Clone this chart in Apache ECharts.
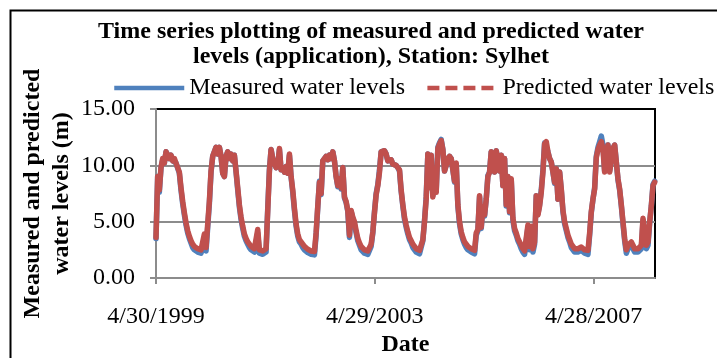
<!DOCTYPE html>
<html>
<head>
<meta charset="utf-8">
<script src="https://cdn.jsdelivr.net/npm/echarts@6/dist/echarts.min.js"></script>
<style>
html,body{margin:0;padding:0;background:#fff;}
#chart{width:717px;height:358px;}
</style>
</head>
<body>
<div id="chart"></div>
<script>
// Sampling: one reading every ~11.13 days starting 4/30/1999 (day 0)
const STEP_DAYS = 11.13;
const X_MAX = 3330;
const xTickValues = [0, 1460, 2920];
const xTickLabels = ['4/30/1999', '4/29/2003', '4/28/2007'];
const yTickDecimals = 2;

const predicted = [
  3.6, 9.0, 7.8, 9.8, 10.6, 10.2, 11.2, 11.3, 10.6, 10.9, 10.4, 10.6, 10.2, 10.3, 9.4, 8.0, 6.8, 5.8, 4.9, 4.2,
  3.7, 3.3, 3.0, 2.8, 2.7, 2.6, 2.55, 2.5, 2.5, 3.9, 2.7, 4.8, 6.8, 9.5, 10.8, 11.2, 11.6, 11.0, 11.6, 10.8,
  9.3, 9.0, 10.8, 11.2, 10.6, 11.0, 10.4, 10.9, 9.5, 8.0, 6.5, 5.4, 4.6, 3.9, 3.5, 3.2, 3.0, 2.8, 2.7, 2.6,
  2.6, 4.3, 2.5, 2.45, 2.4, 2.4, 2.6, 6.0, 9.5, 11.4, 10.6, 10.2, 9.8, 10.0, 11.5, 9.6, 9.8, 9.4, 9.9, 9.3,
  11.0, 9.0, 7.8, 6.2, 4.8, 3.9, 3.4, 3.2, 3.0, 2.8, 2.65, 2.55, 2.5, 2.4, 2.35, 2.35, 4.0, 6.4, 8.5, 7.5,
  10.4, 10.6, 10.8, 10.5, 10.9, 10.6, 11.2, 10.4, 9.0, 8.2, 8.8, 8.0, 9.8, 7.2, 6.8, 6.0, 3.8, 6.0, 5.4, 5.0,
  4.2, 3.5, 3.1, 2.8, 2.65, 2.5, 2.45, 2.4, 2.5, 3.0, 4.1, 5.8, 7.4, 8.2, 9.4, 11.2, 11.3, 11.3, 11.0, 10.4,
  10.3, 10.5, 10.1, 10.0, 10.0, 9.8, 9.6, 7.8, 6.5, 5.4, 4.7, 4.1, 3.6, 3.3, 3.0, 2.8, 2.6, 2.5, 2.45, 2.4,
  3.4, 5.0, 7.0, 11.0, 8.0, 10.9, 7.2, 9.5, 7.6, 11.5, 11.9, 12.2, 11.4, 9.5, 10.0, 10.6, 10.8, 10.6, 9.6, 8.6,
  10.2, 6.5, 5.0, 4.1, 3.6, 3.2, 3.0, 2.8, 2.7, 2.6, 2.5, 2.45, 4.0, 4.3, 7.3, 4.5, 6.3, 5.6, 7.0, 9.0,
  9.4, 11.2, 11.2, 9.4, 11.3, 11.2, 9.5, 10.9, 8.2, 10.6, 6.5, 9.0, 5.9, 8.8, 5.3, 4.4, 4.0, 3.5, 3.2, 2.9,
  2.6, 2.4, 2.4, 4.7, 2.8, 4.6, 2.6, 3.2, 7.3, 5.6, 6.4, 7.6, 9.4, 11.9, 12.1, 11.2, 10.6, 10.3, 9.4, 8.5,
  9.7, 7.0, 9.4, 7.9, 6.0, 5.0, 4.4, 3.8, 3.4, 3.0, 2.8, 2.6, 2.55, 2.6, 2.7, 2.75, 2.6, 2.5, 2.6, 2.45,
  4.0, 5.9, 7.0, 7.9, 10.7, 11.4, 11.8, 12.1, 11.4, 9.4, 10.9, 11.8, 9.4, 9.4, 11.5, 11.8, 10.3, 8.8, 7.9, 6.5,
  5.0, 3.5, 2.5, 2.9, 3.0, 3.2, 2.9, 2.6, 2.6, 2.6, 2.45, 2.9, 5.3, 5.3, 2.9, 3.2, 5.0, 6.4, 8.2, 8.5
];

const measured = [
  3.5, 9.0, 7.6, 9.8, 10.5, 10.2, 11.2, 11.3, 10.6, 10.9, 10.4, 10.5, 10.2, 10.3, 9.3, 7.8, 6.6, 5.6, 4.7, 4.0,
  3.5, 3.1, 2.7, 2.5, 2.4, 2.3, 2.25, 2.2, 2.2, 3.6, 2.4, 4.5, 6.6, 9.4, 10.8, 11.2, 11.6, 11.0, 11.6, 10.8,
  9.3, 9.0, 10.8, 11.2, 10.6, 11.0, 10.4, 10.9, 9.4, 7.8, 6.3, 5.2, 4.4, 3.7, 3.3, 3.0, 2.7, 2.5, 2.4, 2.3,
  2.3, 4.0, 2.2, 2.15, 2.1, 2.1, 2.3, 6.2, 9.6, 11.4, 10.6, 10.2, 9.8, 10.0, 11.4, 9.6, 9.8, 9.4, 9.9, 9.3,
  10.9, 9.0, 7.6, 6.0, 4.6, 3.7, 3.2, 3.0, 2.7, 2.5, 2.35, 2.25, 2.2, 2.1, 2.05, 2.05, 3.8, 6.3, 8.6, 7.4,
  10.4, 10.6, 10.8, 10.5, 10.9, 10.6, 11.2, 10.4, 9.0, 8.1, 8.8, 7.9, 9.8, 7.1, 6.7, 5.9, 3.6, 5.9, 5.3, 4.8,
  4.0, 3.3, 2.9, 2.5, 2.35, 2.2, 2.15, 2.1, 2.2, 2.8, 4.0, 5.9, 7.5, 8.3, 9.6, 11.2, 11.3, 11.3, 11.0, 10.4,
  10.3, 10.5, 10.1, 10.0, 10.0, 9.8, 9.5, 7.7, 6.4, 5.2, 4.5, 3.9, 3.4, 3.1, 2.7, 2.5, 2.3, 2.2, 2.15, 2.1,
  3.3, 5.1, 7.2, 11.0, 8.1, 10.9, 7.3, 9.5, 7.7, 11.6, 12.0, 12.3, 11.4, 9.5, 10.0, 10.6, 10.8, 10.6, 9.6, 8.5,
  10.1, 6.4, 4.8, 3.9, 3.4, 3.0, 2.7, 2.5, 2.4, 2.3, 2.2, 2.15, 3.8, 4.2, 7.2, 4.4, 6.3, 5.5, 7.0, 9.1,
  9.4, 11.2, 11.2, 9.4, 11.3, 11.2, 9.5, 10.9, 8.2, 10.6, 6.4, 9.0, 5.8, 8.7, 5.1, 4.2, 3.8, 3.3, 3.0, 2.6,
  2.3, 2.1, 2.1, 4.5, 2.5, 4.4, 2.3, 3.0, 7.3, 5.7, 6.5, 7.8, 9.6, 12.0, 12.1, 11.2, 10.6, 10.3, 9.4, 8.4,
  9.7, 7.0, 9.4, 7.8, 5.9, 4.8, 4.2, 3.6, 3.2, 2.7, 2.5, 2.3, 2.25, 2.3, 2.4, 2.45, 2.3, 2.2, 2.3, 2.1,
  3.8, 5.8, 7.0, 8.0, 10.8, 11.6, 12.1, 12.6, 11.8, 9.5, 11.0, 11.8, 9.5, 9.5, 11.5, 11.8, 10.3, 8.7, 7.8, 6.4,
  4.8, 3.3, 2.2, 2.6, 2.7, 2.9, 2.6, 2.3, 2.3, 2.3, 2.15, 2.6, 5.1, 5.1, 2.6, 2.9, 4.9, 6.4, 8.3, 8.6
];

const FONT = "'Liberation Serif', 'Times New Roman', serif";
const BLUE = '#4F81BD';
const RED = '#C0504D';
const GRAY = '#8C8C8C';

const toPairs = arr => arr.map((v, i) => [i * STEP_DAYS, v]);

const chart = echarts.init(document.getElementById('chart'), null, {renderer: 'canvas'});
chart.setOption({
  animation: false,
  backgroundColor: '#fff',
  graphic: [{
    type: 'rect',
    shape: {x: 10.5, y: 10.5, width: 800, height: 500},
    style: {fill: 'none', stroke: '#000', lineWidth: 2},
    silent: true
  }],
  title: {
    text: 'Time series plotting of measured and predicted water\nlevels (application), Station: Sylhet',
    left: 366,
    top: 14,
    textAlign: 'center',
    textStyle: {fontFamily: FONT, fontSize: 24, fontWeight: 'bold', color: '#000', lineHeight: 25}
  },
  legend: {
    left: 112,
    top: 76,
    width: 605,
    padding: 0,
    itemWidth: 70,
    itemHeight: 14,
    itemGap: 20,
    orient: 'horizontal',
    textStyle: {fontFamily: FONT, fontSize: 24, color: '#000', lineHeight: 24},
    data: [
      {name: 'Measured water levels', itemStyle: {opacity: 0}, lineStyle: {width: 4.5, type: 'solid', cap: 'butt'}},
      {name: 'Predicted water levels', itemStyle: {opacity: 0}, lineStyle: {width: 4.5, type: [12, 6], cap: 'butt'}}
    ]
  },
  grid: {
    left: 156, right: 62, top: 109, bottom: 80,
    show: true, borderColor: '#000', borderWidth: 2, backgroundColor: 'transparent'
  },
  xAxis: {
    type: 'value',
    min: 0,
    max: X_MAX,
    interval: 1460,
    name: 'Date',
    nameLocation: 'middle',
    nameGap: 55,
    nameMoveOverlap: false,
    nameTextStyle: {fontFamily: FONT, fontSize: 24, fontWeight: 'bold', color: '#000', lineHeight: 24},
    axisLine: {show: true, lineStyle: {color: GRAY, width: 2}},
    axisTick: {show: true, length: 6, lineStyle: {color: GRAY, width: 2}, customValues: xTickValues},
    axisLabel: {
      customValues: xTickValues,
      margin: 27,
      fontFamily: FONT, fontSize: 24, color: '#000', lineHeight: 24,
      formatter: v => {
        const k = xTickValues.indexOf(Math.round(v));
        return k >= 0 ? xTickLabels[k] : '';
      }
    },
    splitLine: {show: false}
  },
  yAxis: {
    type: 'value',
    min: 0,
    max: 15,
    interval: 5,
    name: 'Measured and predicted\nwater levels (m)',
    nameLocation: 'middle',
    nameGap: 80,
    nameMoveOverlap: false,
    nameTextStyle: {fontFamily: FONT, fontSize: 24, fontWeight: 'bold', color: '#000', lineHeight: 29},
    axisLine: {show: true, lineStyle: {color: GRAY, width: 2}},
    axisTick: {show: true, length: 6, lineStyle: {color: GRAY, width: 2}},
    axisLabel: {
      margin: 21,
      fontFamily: FONT, fontSize: 24, color: '#000',
      formatter: v => v.toFixed(yTickDecimals)
    },
    splitLine: {show: true, showMinLine: false, showMaxLine: false, lineStyle: {color: GRAY, width: 2}}
  },
  series: [
    {
      name: 'Measured water levels',
      type: 'line',
      symbol: 'none',
      data: toPairs(measured),
      lineStyle: {color: BLUE, width: 5.5, cap: 'round', join: 'round'},
      itemStyle: {color: BLUE},
      z: 2
    },
    {
      name: 'Predicted water levels',
      type: 'line',
      symbol: 'none',
      data: toPairs(predicted),
      lineStyle: {color: RED, width: 5.5, cap: 'round', join: 'round'},
      itemStyle: {color: RED},
      z: 3
    }
  ]
});
</script>
</body>
</html>
